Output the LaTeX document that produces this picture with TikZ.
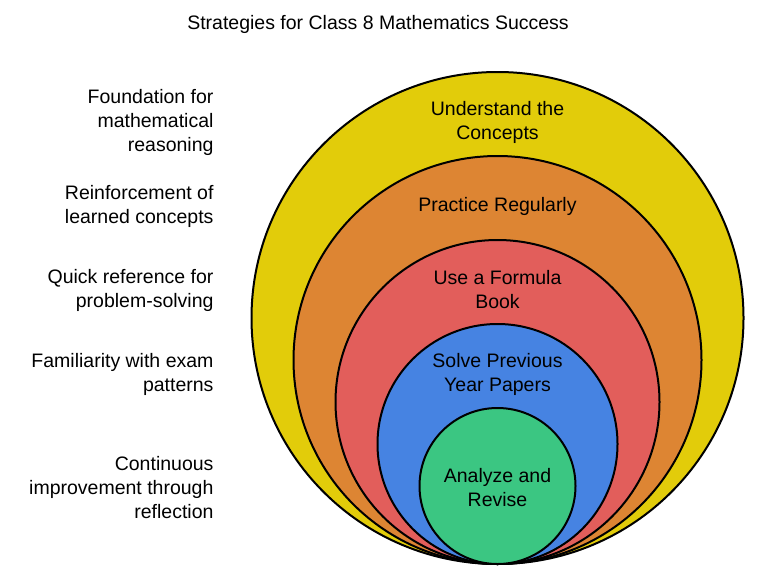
\documentclass[tikz,border=0pt]{standalone}
\usepackage{fontspec}
\setmainfont{Liberation Sans}
\definecolor{ringyellow}{HTML}{E2CC0A}
\definecolor{ringorange}{HTML}{DD8533}
\definecolor{ringred}{HTML}{E25E5B}
\definecolor{ringblue}{HTML}{4683E2}
\definecolor{ringgreen}{HTML}{3BC682}
\tikzset{
  ring/.style={circle, draw=black, line width=2pt, inner sep=0pt},
  ringtext/.style={align=center, font=\fontsize{19.5}{24}\selectfont},
  sidenote/.style={anchor=east, align=right, font=\fontsize{19.5}{24}\selectfont},
}
\begin{document}
\begin{tikzpicture}[x=1pt,y=-1pt]
      \useasboundingbox (0,0) rectangle (757,578);
      \node[font=\fontsize{19.5}{24}\selectfont] (title) at (378,24) {Strategies for Class 8 Mathematics Success};
      \node[ring, fill=ringyellow, minimum size=492pt] (concepts) at (497.5,318) {};
      \node[ring, fill=ringorange, minimum size=408pt] (practice) at (497.5,360) {};
      \node[ring, fill=ringred, minimum size=324pt] (formula) at (497.5,402) {};
      \node[ring, fill=ringblue, minimum size=240pt] (papers) at (497.5,444) {};
      \node[ring, fill=ringgreen, minimum size=156pt] (revise) at (497.5,486) {};
      \node[ringtext] (concepts text) at (497.5,122) {Understand the\\Concepts};
      \node[ringtext] (practice text) at (497.5,206) {Practice Regularly};
      \node[ringtext] (formula text) at (497.5,290) {Use a Formula\\Book};
      \node[ringtext] (papers text) at (497.5,374) {Solve Previous\\Year Papers};
      \node[ringtext] (revise text) at (497.5,488) {Analyze and\\Revise};
      \node[sidenote] (concepts note) at (217,122) {Foundation for\\mathematical\\reasoning};
      \node[sidenote] (practice note) at (217,206) {Reinforcement of\\learned concepts};
      \node[sidenote] (formula note) at (217,290) {Quick reference for\\problem-solving};
      \node[sidenote] (papers note) at (217,374) {Familiarity with exam\\patterns};
      \node[sidenote] (revise note) at (217,488) {Continuous\\improvement through\\reflection};
    \end{tikzpicture}
\end{document}
